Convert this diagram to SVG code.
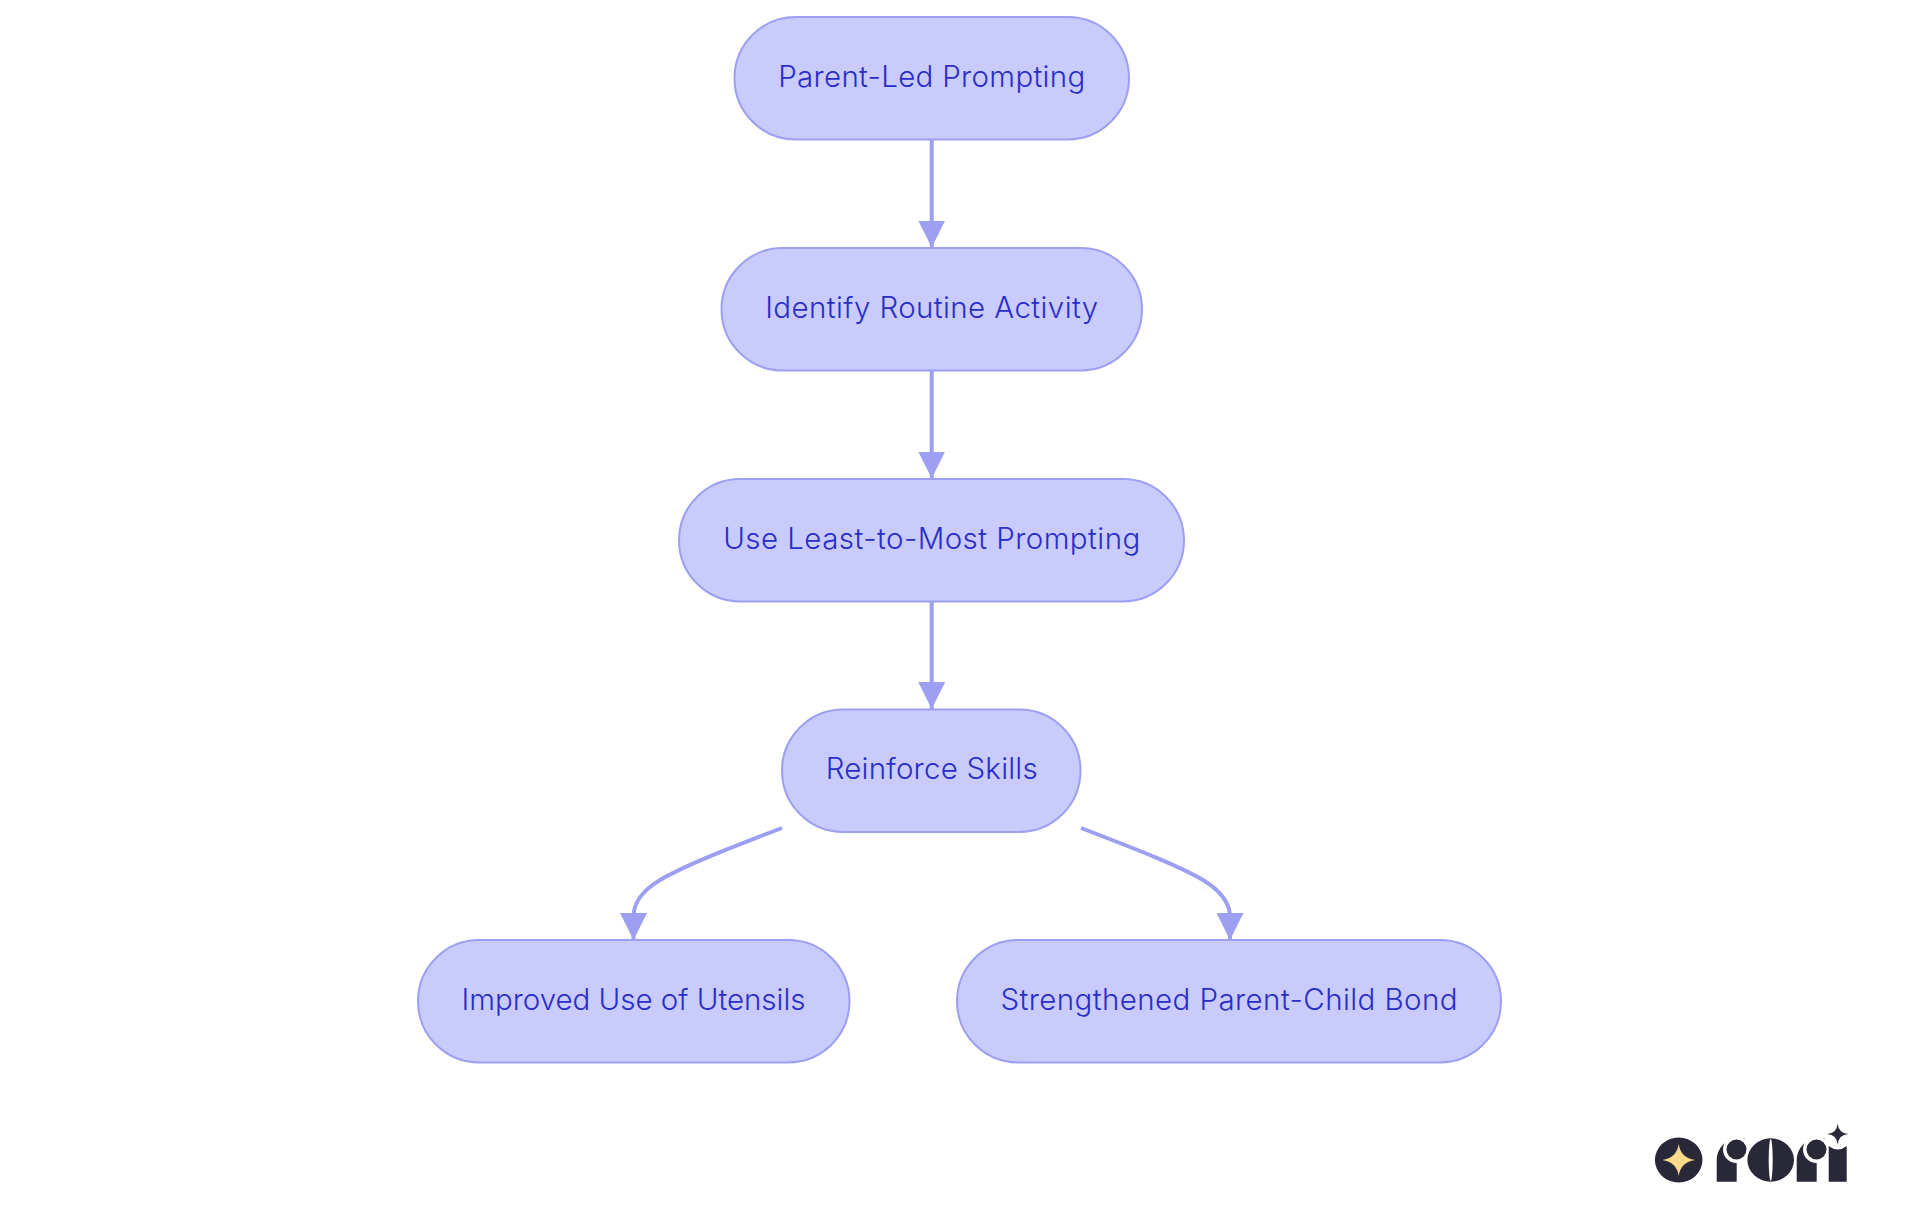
<svg xmlns="http://www.w3.org/2000/svg" width="1920" height="1215" viewBox="0 0 1920 1215">
<style>
.n{fill:#c9cbfd;stroke:#9c9ff2;stroke-width:2}
.t{font-family:Inter,"Noto Sans","Liberation Sans",sans-serif;font-size:29.5px;font-weight:300;fill:#2a2ec8;text-anchor:middle}
.e{fill:none;stroke:#9c9ff2;stroke-width:4;marker-end:url(#a)}
.d{fill:#292839}
.w{fill:#fff}
</style>
<defs>
<marker id="a" markerUnits="userSpaceOnUse" markerWidth="27" markerHeight="27" refX="27" refY="13.500" orient="auto"><path d="M0 0L27 13.500L0 27Z" fill="#9c9ff2"/></marker>
</defs>
<rect width="1920" height="1215" fill="#fff"/>
<g id="connectors">
<path class="e" d="M931.700 140V247.500"/>
<path class="e" d="M931.700 370V478.500"/>
<path class="e" d="M931.700 601V709"/>
<path class="e" d="M782 828C722 851 684 866 660 880C642 891 634 902 633.500 916V940"/>
<path class="e" d="M1081 828C1141 851 1179 866 1203 880C1221 891 1229.500 902 1230 916V940"/>
</g>
<g id="n1"><rect class="n" x="734.500" y="17" width="394.500" height="122.500" rx="61.200"/><text class="t" x="931.700" y="87" textLength="307">Parent-Led Prompting</text></g>
<g id="n2"><rect class="n" x="721.500" y="248" width="420.500" height="122.500" rx="61.200"/><text class="t" x="931.700" y="318" textLength="333">Identify Routine Activity</text></g>
<g id="n3"><rect class="n" x="679" y="479" width="505" height="122.500" rx="61.200"/><text class="t" x="931.700" y="549" textLength="417">Use Least-to-Most Prompting</text></g>
<g id="n4"><rect class="n" x="782" y="709.500" width="298.500" height="122.500" rx="61.200"/><text class="t" x="931.700" y="779" textLength="212">Reinforce Skills</text></g>
<g id="n5"><rect class="n" x="418" y="940" width="431.500" height="122.500" rx="61.200"/><text class="t" x="633.500" y="1010" textLength="344">Improved Use of Utensils</text></g>
<g id="n6"><rect class="n" x="957" y="940" width="544" height="122.500" rx="61.200"/><text class="t" x="1229" y="1010" textLength="457">Strengthened Parent-Child Bond</text></g>
<g id="logo">
<ellipse class="d" cx="1678.700" cy="1160" rx="23.800" ry="22.500"/>
<path fill="#fbd98a" d="M1678.700 1144Q1680.700 1158 1695.200 1160Q1680.700 1162 1678.700 1176Q1676.700 1162 1662.200 1160Q1676.700 1158 1678.700 1144Z"/>
<path class="d" d="M1716.700 1181.700V1160A21.500 21.500 0 0 1 1738 1138.500H1745V1181.700Z"/>
<rect class="w" x="1736.700" y="1160" width="12" height="23"/>
<circle class="w" cx="1736.500" cy="1149.500" r="13.500"/>
<circle class="d" cx="1736.500" cy="1149.500" r="10"/>
<ellipse class="d" cx="1770.700" cy="1160" rx="23.300" ry="21.700"/>
<ellipse class="w" cx="1770.700" cy="1160" rx="2" ry="21"/>
<path class="d" d="M1796.700 1181.700V1160A21.500 21.500 0 0 1 1818 1138.500H1825V1181.700Z"/>
<rect class="w" x="1816.700" y="1160" width="12" height="23"/>
<circle class="w" cx="1816.500" cy="1149.500" r="13.500"/>
<circle class="d" cx="1816.500" cy="1149.500" r="10"/>
<path class="d" d="M1828.700 1181.700V1146Q1837.700 1153 1846.700 1146V1181.700Z"/>
<path class="d" d="M1837.700 1123.500Q1838.500 1133.200 1848.200 1134Q1838.500 1134.800 1837.700 1144.500Q1836.900 1134.800 1827.200 1134Q1836.900 1133.200 1837.700 1123.500Z"/>
</g>
</svg>
